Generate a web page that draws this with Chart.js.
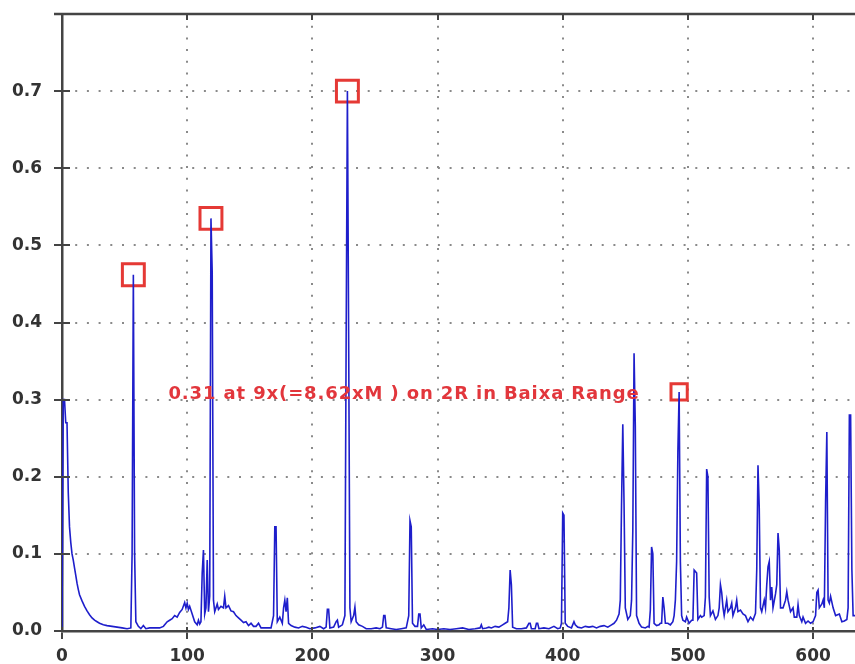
<!DOCTYPE html>
<html>
<head>
<meta charset="utf-8">
<script src="https://cdn.jsdelivr.net/npm/chart.js@4.4.1/dist/chart.umd.min.js"></script>
<style>
  html, body { margin: 0; padding: 0; background: #fff; overflow: hidden; }
  #wrap { width: 855px; height: 664px; }
</style>
</head>
<body>
<div id="wrap"><canvas id="spectrum" width="855" height="664"></canvas></div>
<script>
// spectrum samples (x position, amplitude)
const freq = [
  0, 1, 2, 3, 4, 5, 6, 7, 8, 9, 10, 11, 12, 13, 14, 16, 18, 20, 22, 24, 26, 28, 30, 33, 36, 40, 44, 48, 52, 55,
  56, 57, 58, 59, 61, 63, 65, 67, 70, 74, 78, 81, 84, 86, 88, 90, 92, 94, 96, 98, 99, 100, 101, 102, 104, 106, 108, 109, 110, 111,
  112, 113, 114, 115, 116, 117, 118, 119, 120, 121, 122, 124, 125, 127, 129, 130, 131, 133, 135, 137, 139, 141, 143, 145, 147, 149, 151, 153, 155, 157,
  159, 163, 167, 169, 170, 171, 172, 174, 176, 177, 178, 179, 180, 181, 183, 186, 189, 192, 195, 198, 202, 206, 209, 211, 212, 213, 214, 217, 219, 220,
  221, 224, 226, 227, 228, 229, 230, 231, 233, 234, 235, 237, 240, 243, 247, 251, 254, 256, 257, 258, 259, 263, 267, 271, 275, 277, 278, 279, 280, 282,
  284, 285, 286, 287, 289, 291, 296, 300, 305, 310, 315, 320, 325, 330, 334, 335, 336, 339, 341, 343, 346, 349, 352, 354, 356, 357, 358, 359, 360, 363,
  367, 371, 373, 374, 375, 378, 379, 380, 381, 385, 389, 393, 396, 398, 399, 400, 401, 402, 404, 407, 409, 410, 412, 415, 418, 421, 424, 427, 430, 433,
  436, 439, 441, 443, 445, 446, 447, 448, 449, 450, 452, 454, 455, 456, 457, 458, 459, 461, 463, 466, 468, 469, 470, 471, 472, 473, 475, 477, 478, 479,
  480, 481, 482, 484, 486, 488, 489, 490, 491, 492, 493, 494, 495, 496, 498, 499, 501, 503, 504, 505, 506, 507, 508, 510, 511, 513, 514, 515, 516, 517,
  518, 520, 522, 524, 525, 526, 527, 528, 529, 531, 532, 534, 535, 536, 538, 539, 540, 542, 544, 546, 548, 550, 552, 554, 555, 556, 557, 558, 559, 561,
  562, 563, 564, 565, 566, 567, 568, 570, 571, 572, 573, 574, 576, 578, 579, 580, 582, 584, 585, 587, 588, 589, 591, 592, 594, 596, 598, 600, 602, 603,
  604, 605, 607, 608, 609, 610, 611, 612, 613, 614, 616, 618, 621, 623, 625, 627, 628, 629, 630, 631, 632, 633, 634
];
const amp = [
  0.0, 0.30, 0.30, 0.27, 0.27, 0.18, 0.135, 0.115, 0.10, 0.092, 0.082, 0.072, 0.062, 0.054, 0.047, 0.039, 0.032, 0.026, 0.021, 0.017, 0.014, 0.012, 0.010, 0.008, 0.007, 0.006, 0.005, 0.004, 0.003, 0.004,
  0.10, 0.462, 0.10, 0.012, 0.006, 0.003, 0.007, 0.003, 0.004, 0.004, 0.004, 0.006, 0.012, 0.014, 0.016, 0.020, 0.018, 0.024, 0.028, 0.037, 0.030, 0.036, 0.028, 0.032, 0.022, 0.012, 0.008, 0.014, 0.009, 0.012,
  0.075, 0.105, 0.022, 0.03, 0.092, 0.025, 0.045, 0.535, 0.465, 0.04, 0.025, 0.035, 0.028, 0.032, 0.03, 0.045, 0.03, 0.033, 0.026, 0.025, 0.02, 0.017, 0.014, 0.011, 0.012, 0.007, 0.010, 0.006, 0.006, 0.010,
  0.004, 0.004, 0.004, 0.02, 0.135, 0.135, 0.012, 0.018, 0.01, 0.03, 0.04, 0.025, 0.043, 0.01, 0.007, 0.005, 0.004, 0.006, 0.005, 0.003, 0.004, 0.006, 0.003, 0.005, 0.028, 0.028, 0.004, 0.005, 0.012, 0.014,
  0.005, 0.008, 0.02, 0.38, 0.70, 0.38, 0.03, 0.012, 0.02, 0.031, 0.012, 0.008, 0.006, 0.003, 0.003, 0.004, 0.003, 0.005, 0.02, 0.02, 0.004, 0.003, 0.002, 0.003, 0.004, 0.02, 0.143, 0.135, 0.01, 0.006,
  0.006, 0.022, 0.022, 0.004, 0.008, 0.002, 0.003, 0.002, 0.003, 0.002, 0.003, 0.004, 0.002, 0.003, 0.004, 0.008, 0.003, 0.004, 0.005, 0.004, 0.006, 0.005, 0.008, 0.01, 0.012, 0.03, 0.079, 0.06, 0.005, 0.003,
  0.003, 0.004, 0.01, 0.01, 0.003, 0.003, 0.01, 0.01, 0.003, 0.004, 0.003, 0.006, 0.003, 0.004, 0.01, 0.153, 0.15, 0.01, 0.006, 0.004, 0.012, 0.008, 0.005, 0.004, 0.006, 0.005, 0.006, 0.004, 0.006, 0.007,
  0.005, 0.008, 0.01, 0.014, 0.022, 0.04, 0.165, 0.268, 0.165, 0.03, 0.015, 0.02, 0.04, 0.13, 0.36, 0.265, 0.02, 0.01, 0.005, 0.004, 0.006, 0.005, 0.027, 0.109, 0.10, 0.01, 0.007, 0.008, 0.01, 0.01,
  0.044, 0.03, 0.01, 0.01, 0.008, 0.012, 0.02, 0.04, 0.09, 0.232, 0.31, 0.09, 0.02, 0.014, 0.012, 0.018, 0.01, 0.014, 0.014, 0.079, 0.077, 0.075, 0.015, 0.02, 0.018, 0.02, 0.044, 0.21, 0.20, 0.044,
  0.02, 0.026, 0.015, 0.02, 0.03, 0.06, 0.05, 0.031, 0.02, 0.04, 0.025, 0.03, 0.036, 0.02, 0.03, 0.04, 0.025, 0.027, 0.022, 0.02, 0.012, 0.018, 0.014, 0.023, 0.079, 0.215, 0.16, 0.03, 0.025, 0.04,
  0.03, 0.06, 0.083, 0.09, 0.04, 0.057, 0.03, 0.048, 0.06, 0.127, 0.105, 0.03, 0.03, 0.04, 0.051, 0.04, 0.025, 0.03, 0.018, 0.018, 0.034, 0.02, 0.012, 0.018, 0.01, 0.013, 0.01, 0.012, 0.02, 0.05,
  0.053, 0.03, 0.035, 0.04, 0.03, 0.167, 0.258, 0.04, 0.036, 0.045, 0.03, 0.02, 0.022, 0.012, 0.013, 0.015, 0.03, 0.28, 0.28, 0.08, 0.02, 0.02, 0.02
];

// highlighted peaks (red boxes)
const peakX = [57, 119, 228, 493];
const peakY = [0.462, 0.535, 0.70, 0.31];
const peakBoxSize = [15.5, 15.5, 15.5, 11.5];

const xTicks = [0, 100, 200, 300, 400, 500, 600];
const yTicks = [0, 0.1, 0.2, 0.3, 0.4, 0.5, 0.6, 0.7, 0.8];

const noteText = '0.31 at 9x(=8.62xM ) on 2R in Baixa Range';
const noteFrom = 85;    // x value where the note starts
const noteTo = 461.5;   // x value where the note ends
const noteY = 0.307;

const AXIS = '#444';
const LABEL = '#333';

// top frame line and inward tick marks
const framePlugin = {
  id: 'frame',
  afterDraw(chart) {
    const { ctx, chartArea: a, scales: { x, y } } = chart;
    ctx.save();
    ctx.strokeStyle = AXIS;
    ctx.lineWidth = 2.5;
    ctx.beginPath();
    ctx.moveTo(a.left - 8, a.top);
    ctx.lineTo(a.right, a.top);
    ctx.stroke();
    ctx.lineWidth = 2;
    ctx.beginPath();
    xTicks.forEach(v => {
      const px = Math.round(x.getPixelForValue(v));
      ctx.moveTo(px, a.bottom); ctx.lineTo(px, a.bottom - 4);
      ctx.moveTo(px, a.top); ctx.lineTo(px, a.top + 6);
    });
    yTicks.forEach(v => {
      const py = Math.round(y.getPixelForValue(v));
      ctx.moveTo(a.left, py); ctx.lineTo(a.left + 8, py);
    });
    ctx.stroke();
    ctx.restore();
  }
};

const notePlugin = {
  id: 'note',
  afterDatasetsDraw(chart) {
    const { ctx, scales: { x, y } } = chart;
    const x0 = x.getPixelForValue(noteFrom);
    const x1 = x.getPixelForValue(noteTo);
    ctx.save();
    ctx.font = 'bold 18px "DejaVu Sans"';
    const w = ctx.measureText(noteText).width;
    ctx.letterSpacing = ((x1 - x0 - w) / noteText.length).toFixed(2) + 'px';
    ctx.fillStyle = '#e2363c';
    ctx.textAlign = 'left';
    ctx.textBaseline = 'middle';
    ctx.fillText(noteText, x0, y.getPixelForValue(noteY));
    ctx.restore();
  }
};

Chart.defaults.font.family = '"DejaVu Sans", Verdana, sans-serif';

new Chart(document.getElementById('spectrum'), {
  type: 'line',
  data: {
    datasets: [
      {
        data: freq.map((f, i) => ({ x: f, y: amp[i] })),
        borderColor: '#1e1ecb',
        borderWidth: 1.6,
        pointRadius: 0,
        tension: 0
      },
      {
        data: peakX.map((f, i) => ({ x: f, y: peakY[i] })),
        showLine: false,
        pointStyle: 'rect',
        pointRadius: peakBoxSize,
        pointBorderColor: '#e53935',
        pointBorderWidth: 3,
        pointBackgroundColor: 'rgba(0,0,0,0)'
      }
    ]
  },
  options: {
    responsive: false,
    animation: false,
    devicePixelRatio: 1,
    layout: { autoPadding: false, padding: { top: 14, left: 0, right: 0, bottom: 0 } },
    plugins: { legend: { display: false }, tooltip: { enabled: false } },
    scales: {
      x: {
        type: 'linear',
        min: 0,
        max: 633.5,
        afterBuildTicks: s => { s.ticks = xTicks.map(v => ({ value: v })); },
        afterFit: s => { s.height = 33; s.paddingLeft = 0; s.paddingRight = 0; },
        ticks: {
          color: LABEL,
          font: { size: 17, weight: 'bold' },
          padding: 7,
          maxRotation: 0
        },
        grid: { color: '#8a8a8a', lineWidth: 2, tickLength: 8, tickColor: AXIS, tickWidth: 2 },
        border: { color: AXIS, width: 2.5, dash: [2, 9.7] }
      },
      y: {
        min: 0,
        max: 0.8,
        afterBuildTicks: s => { s.ticks = yTicks.map(v => ({ value: v })); },
        afterFit: s => { s.width = 62; s.paddingTop = 0; s.paddingBottom = 0; },
        ticks: {
          color: LABEL,
          font: { size: 17, weight: 'bold' },
          padding: 12,
          callback: v => (v > 0.75 ? '' : v.toFixed(1))
        },
        grid: { color: '#8a8a8a', lineWidth: 2, tickLength: 8, tickColor: AXIS, tickWidth: 2 },
        border: { color: AXIS, width: 2.5, dash: [2, 9.7] }
      }
    }
  },
  plugins: [framePlugin, notePlugin]
});
</script>
</body>
</html>
